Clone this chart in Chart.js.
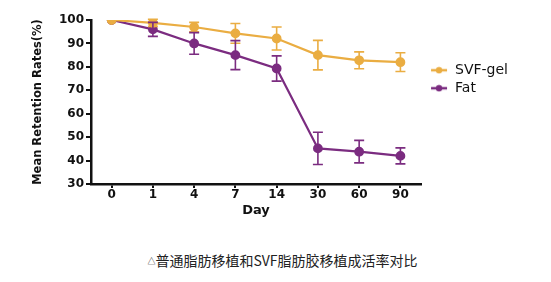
<!DOCTYPE html>
<html>
<head>
<meta charset="utf-8">
<script src="https://cdn.jsdelivr.net/npm/chart.js@4"></script>
<style>
  body { margin: 0; background: #fff; width: 551px; height: 282px; overflow: hidden; }
  #box { position: absolute; left: 0; top: 0; width: 551px; height: 222px; }
  #caption { position: absolute; left: 7px; top: 250px; width: 551px; text-align: center;
    font-family: "Noto Sans CJK SC", sans-serif; font-size: 14px; color: #222; line-height: 20px; }
  #caption span { font-size: 8px; vertical-align: 2px; }
</style>
</head>
<body>
<div id="box"><canvas id="chart"></canvas></div>
<div id="caption"><span>△</span>普通脂肪移植和SVF脂肪胶移植成活率对比</div>
<script>
// valeurs
var days = ['0', '1', '4', '7', '14', '30', '60', '90'];
var svfGel = [100, 98.8, 97, 94.3, 92.1, 85, 82.8, 82];
var svfErr = [0, 1.5, 2, 4.2, 4.9, 6.3, 3.6, 4];
var fat = [100, 96, 90, 85, 79.3, 45.2, 43.8, 42];
var fatErr = [0, 3, 4.6, 6.2, 5.4, 6.9, 4.8, 3.4];
var yTicks = [30, 40, 50, 60, 70, 80, 90, 100];

var orange = '#EAAD42';
var purple = '#7B2C80';

Chart.defaults.font.family = 'DejaVu Sans';
Chart.defaults.color = '#111';

// petit symbole trait + point pour la légende (avec marge à gauche)
function legendMark(color){
    var c = document.createElement('canvas');
    c.width = 23; c.height = 8;
    var ctx = c.getContext('2d');
    ctx.strokeStyle = color;
    ctx.lineWidth = 2.5;
    ctx.beginPath(); ctx.moveTo(6, 4); ctx.lineTo(22, 4); ctx.stroke();
    ctx.fillStyle = color;
    ctx.beginPath(); ctx.arc(14, 4, 3.2, 0, Math.PI * 2); ctx.fill();
    return c;
}

// barres d'erreur
var errorBars = {
    id: 'errorBars',
    afterDatasetsDraw: function(chart){
        var ctx = chart.ctx;
        var y = chart.scales.y;
        chart.data.datasets.forEach(function(ds, i){
            var meta = chart.getDatasetMeta(i);
            ctx.save();
            ctx.strokeStyle = ds.borderColor;
            ctx.lineWidth = 1.6;
            meta.data.forEach(function(pt, j){
                var e = ds.errors[j];
                if (!e) return;
                var top = y.getPixelForValue(ds.data[j] + e);
                var bot = y.getPixelForValue(ds.data[j] - e);
                ctx.beginPath();
                ctx.moveTo(pt.x, top); ctx.lineTo(pt.x, bot);
                ctx.moveTo(pt.x - 5, top); ctx.lineTo(pt.x + 5, top);
                ctx.moveTo(pt.x - 5, bot); ctx.lineTo(pt.x + 5, bot);
                ctx.stroke();
            });
            ctx.restore();
        });
    }
};

var data = {
    labels: days,
    datasets: [{
        label: 'SVF-gel',
        data: svfGel,
        errors: svfErr,
        borderColor: orange,
        backgroundColor: orange,
        borderWidth: 2.2,
        pointRadius: 3.8,
        tension: 0
    }, {
        label: 'Fat',
        data: fat,
        errors: fatErr,
        borderColor: purple,
        backgroundColor: purple,
        borderWidth: 2.2,
        pointRadius: 3.8,
        tension: 0
    }]
};

var config = {
    type: 'line',
    data: data,
    plugins: [errorBars],
    options: {
        responsive: true,
        maintainAspectRatio: false,
        animation: { duration: 0 },
        layout: { padding: { left: 25, top: 20, right: 33, bottom: 4 } },
        plugins: {
            tooltip: { enabled: false },
            legend: {
                position: 'right',
                align: 'start',
                title: { display: true, text: ' ', font: { size: 1 }, padding: { top: 38, bottom: 0 } },
                labels: {
                    usePointStyle: true,
                    pointStyleWidth: 23,
                    boxHeight: 8,
                    padding: 4,
                    color: '#111',
                    font: { size: 14 },
                    generateLabels: function(chart){
                        return chart.data.datasets.map(function(ds, i){
                            return {
                                text: ds.label,
                                pointStyle: legendMark(ds.borderColor),
                                fillStyle: ds.borderColor,
                                strokeStyle: ds.borderColor,
                                lineWidth: 0,
                                datasetIndex: i
                            };
                        });
                    }
                }
            }
        },
        scales: {
            x: {
                offset: true,
                border: { color: '#111', width: 2.5 },
                grid: { drawOnChartArea: false, drawTicks: true, tickLength: 4, color: '#111', lineWidth: 2 },
                ticks: { padding: 0, font: { size: 12, weight: 'bold' }, color: '#111' },
                title: { display: true, text: 'Day', padding: { top: 0, bottom: 0 }, font: { size: 13, weight: 'bold' }, color: '#111' }
            },
            y: {
                min: 30,
                max: 100,
                afterBuildTicks: function(s){ s.ticks = yTicks.map(function(v){ return { value: v }; }); },
                afterFit: function(s){ s.width = 66; },
                border: { color: '#111', width: 2.5 },
                grid: { drawOnChartArea: false, drawTicks: true, tickLength: 5, color: '#111', lineWidth: 2 },
                ticks: { padding: 2, font: { size: 12, weight: 'bold' }, color: '#111' },
                title: { display: true, text: 'Mean Retention Rates(%)', padding: { top: 6, bottom: 0 }, font: { size: 11.5, weight: 'bold' }, color: '#111' }
            }
        }
    }
};

var myChart = new Chart(document.getElementById('chart'), config);
</script>
</body>
</html>
